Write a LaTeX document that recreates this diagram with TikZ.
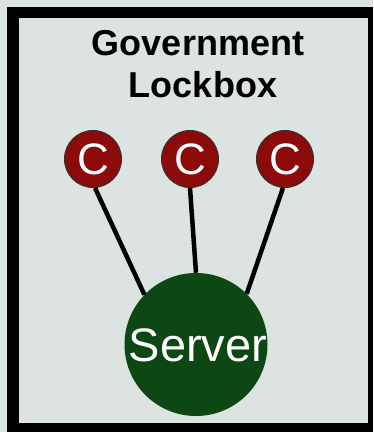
\documentclass[tikz,border=0pt]{standalone}
\usepackage{fontspec}
\setmainfont{Liberation Sans}
\usetikzlibrary{positioning}

\definecolor{boxgray}{RGB}{220,227,224}
\definecolor{clientred}{RGB}{140,10,10}
\definecolor{servergreen}{RGB}{13,72,20}

\tikzset{
	client/.style={circle,draw=black!80,line width=1pt,fill=clientred,minimum size=57pt,inner sep=0pt,text=white,font=\fontsize{44}{44}\selectfont},
	server/.style={circle,fill=servergreen,minimum size=143pt,inner sep=0pt},
	servertext/.style={text=white,inner sep=0pt,font=\fontsize{47}{47}\selectfont},
	heading/.style={anchor=base,inner sep=0pt,font=\bfseries\fontsize{36}{42}\selectfont},
	wire/.style={line width=4.5pt}
}

\begin{document}
\begin{tikzpicture}[x=1pt,y=-1pt]
		\fill[boxgray] (0,0) rectangle (373,432);
		% lockbox frame
		\fill[black] (7,7) rectangle (373,432);
		\fill[boxgray] (19,18) rectangle (368,423);
		\node[heading] (gov) at (198,55) {Government};
		\node[heading] (lock) at (203,97) {Lockbox};
		% clients and server
		\node[client] (c1) at (93,159) {C};
		\node[client] (c2) at (190,159) {C};
		\node[client] (c3) at (285,159) {C};
		\node[server] (srv) at (196,344.5) {};
		\node[servertext] (srvlabel) at (198,345) {Server};
		\draw[wire] (c1.-86) -- (srv.136);
		\draw[wire] (c2.south) -- (srv.north);
		\draw[wire] (c3.-94) -- (srv.45);
	\end{tikzpicture}
\end{document}
